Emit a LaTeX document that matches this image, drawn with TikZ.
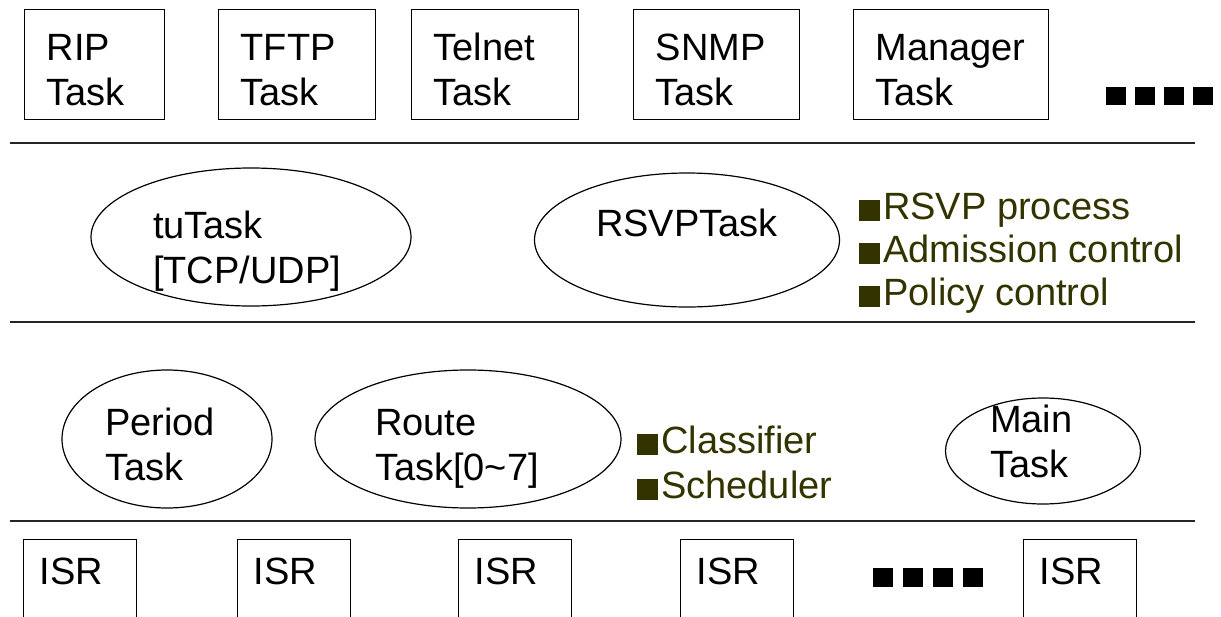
\documentclass[tikz,border=0pt]{standalone}
\usepackage{fontspec}
\setmainfont{Liberation Sans}
\usetikzlibrary{shapes.geometric}
\definecolor{notecolor}{HTML}{333300}
\newcommand{\notemark}{\rule[-2pt]{21pt}{21pt}\hspace{3pt}}

\begin{document}
\begin{tikzpicture}[x=1pt,y=-1pt,
    every node/.style={font=\fontsize{38pt}{45pt}\selectfont, inner sep=0pt},
    taskbox/.style={draw, line width=1.3pt, anchor=north west, minimum height=110pt, inner xsep=22pt, align=left, text height=30pt, text depth=38pt},
    taskellipse/.style={draw, ellipse, line width=1.2pt, align=left},
    isrbox/.style={draw, line width=1.3pt, anchor=north west, inner xsep=16pt, inner ysep=20pt, text width=81pt, text height=25pt, text depth=40pt, align=left},
    note/.style={anchor=base west, text=notecolor},
    layer/.style={line width=1.8pt, black!85}]
  \useasboundingbox (0,0) rectangle (1221,616);
  \clip (0,0) rectangle (1221,616);

  % application tasks
  \node[taskbox, text width=96pt] (rip) at (24,9) {RIP\\Task};
  \node[taskbox, text width=113pt] (tftp) at (218,9) {TFTP\\Task};
  \node[taskbox, text width=123pt] (telnet) at (411,9) {Telnet\\Task};
  \node[taskbox, text width=122pt] (snmp) at (633,9) {SNMP\\Task};
  \node[taskbox, text width=151pt] (manager) at (853,9) {Manager\\Task};
  \foreach \x in {1106,1135,1164,1193}
    \fill (\x,87) rectangle ++(20,18);

  % layer lines
  \draw[layer] (10,143) -- (1195,143);
  \draw[layer] (10,322) -- (1195,322);
  \draw[layer] (10,521) -- (1195,521);

  % protocol tasks
  \node[taskellipse, minimum width=320pt, minimum height=138pt, text width=196pt, text height=30pt, text depth=28pt] (tutask) at (251,237) {tuTask\\{[TCP/UDP]}};
  \node[taskellipse, minimum width=305pt, minimum height=134pt, text height=20pt, text depth=28pt] (rsvptask) at (687,240) {RSVPTask};
  \foreach \txt [count=\i] in {RSVP process, Admission control, Policy control}
    \node[note] (rsvpnote\i) at (859,{176+43*\i}) {\notemark\txt};

  % route tasks
  \node[taskellipse, minimum width=210pt, minimum height=138pt, text width=124pt, text height=25pt, text depth=33pt] (periodtask) at (167,439) {Period\\Task};
  \node[taskellipse, minimum width=306pt, minimum height=138pt, text width=186pt, text height=25pt, text depth=33pt] (routetask) at (468,439) {Route\\Task[0\textasciitilde7]};
  \node[note] (classnote) at (637,453) {\notemark Classifier};
  \node[note] (schednote) at (637,498) {\notemark Scheduler};
  \node[taskellipse, minimum width=195pt, minimum height=106pt, text width=106pt, text height=10pt, text depth=48pt] (maintask) at (1043,451) {Main\\Task};

  % interrupt routines
  \foreach \x [count=\i] in {23,237,458,680,1023}
    \node[isrbox] (isr\i) at (\x,539) {ISR};
  \foreach \x in {873,903,933,963}
    \fill (\x,568) rectangle ++(20,19);
\end{tikzpicture}
\end{document}
